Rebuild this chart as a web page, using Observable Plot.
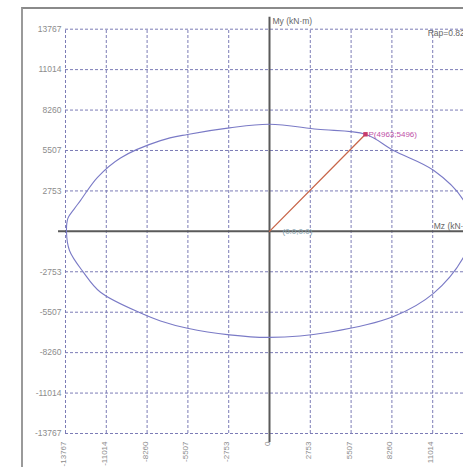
<!DOCTYPE html>
<html>
<head>
<meta charset="utf-8">
<script src="https://cdn.jsdelivr.net/npm/d3@7"></script>
<script src="https://cdn.jsdelivr.net/npm/@observablehq/plot@0.6"></script>
<style>
  html, body { margin: 0; padding: 0; background: #fff; overflow: hidden; }
  #wrap { position: relative; width: 463px; height: 467px; }
  #border { position: absolute; left: 21px; top: 7px; width: 460px; height: 470px;
            border-left: 2px solid #9a9a9a; border-top: 2px solid #8a8a8a; pointer-events: none; }
</style>
</head>
<body>
<div id="wrap"><div id="border"></div></div>
<script>
// Tick values (kN·m)
const xTicks = [-13767, -11014, -8260, -5507, -2753, 2753, 5507, 8260, 11014, 13767];
const yTicks = [-13767, -11014, -8260, -5507, -2753, 2753, 5507, 8260, 11014, 13767];
const xTickLabels = ["-13767", "-11014", "-8260", "-5507", "-2753", "0", "2753", "5507", "8260", "11014"];
const xTickLabelVals = [-13767, -11014, -8260, -5507, -2753, 0, 2753, 5507, 8260, 11014];

// Interaction curve (Mz, My), closed
const curveMz = [-13700, -13600, -13200, -12750, -11606, -10055, -7355, -5533, -2699, 0, 3239, 6478, 8367, 11067, 13091, 13700,
                 13091, 11067, 8367, 4116, 0, -2699, -5533, -7355, -8502, -11404, -12551, -13500];
const curveMy = [0, 900, 1500, 2110, 3680, 5000, 6180, 6600, 7050, 7291, 6950, 6610, 5507, 4157, 2112, 0,
                 -1772, -4225, -5800, -6850, -7223, -7050, -6600, -6100, -5650, -4150, -2794, -1300];

// Load point
const pointMz = [0, 6478];
const pointMy = [0, 6610];
const pointLabel = "P(4963;5496)";
const originLabel = "(0.0;0.0)";
const ratioLabel = "Rap=0.82";
const yAxisLabel = "My (kN·m)";
const xAxisLabel = "Mz (kN·m)";

const curve = curveMz.map((v, i) => ({mz: v, my: curveMy[i]}));
const seg = pointMz.map((v, i) => ({mz: v, my: pointMy[i]}));
const pt = [seg[1]];
const font = "Liberation Sans, Arial, sans-serif";

const chart = Plot.plot({
  width: 463,
  height: 467,
  margin: 0,
  style: {background: "transparent", fontFamily: font},
  x: {domain: [-13767, 13767], range: [65, 473], axis: null},
  y: {domain: [-13767, 13767], range: [433, 28.7], axis: null},
  marks: [
    Plot.ruleX(xTicks, {x: d => d, y1: () => -13767, y2: () => 13767, stroke: "#7c7cb6", strokeWidth: 1, strokeDasharray: "3,2"}),
    Plot.ruleY(yTicks, {y: d => d, x1: () => -13767, x2: () => 13767, stroke: "#7c7cb6", strokeWidth: 1, strokeDasharray: "3,2"}),
    Plot.ruleY([0], {y: d => d, x1: () => -14238, x2: () => 13767, stroke: "#5a5a5a", strokeWidth: 2}),
    Plot.ruleX([0], {x: d => d, y1: () => -14378, y2: () => 14582, stroke: "#5a5a5a", strokeWidth: 2}),
    Plot.line(curve, {x: "mz", y: "my", stroke: "#7a7ac6", strokeWidth: 1.1, curve: "catmull-rom-closed"}),
    Plot.line(seg, {x: "mz", y: "my", stroke: "#c8664a", strokeWidth: 1.3}),
    Plot.dot(pt, {x: "mz", y: "my", r: 2.5, symbol: "square", fill: "#c83a6a"}),
    Plot.text(pt, {x: "mz", y: "my", text: () => pointLabel, textAnchor: "start", dx: 3, fontSize: 8, fill: "#c050a8"}),
    Plot.text([seg[0]], {x: "mz", y: "my", text: () => originLabel, textAnchor: "start", dx: 13, fontSize: 8, fill: "#7fa2ae"}),
    Plot.text(yTicks, {x: () => -13767, y: d => d, text: d => String(d), textAnchor: "end", dx: -4, fontSize: 8.5, fill: "#8c8c8c"}),
    Plot.text(xTickLabelVals, {x: d => d, y: () => -13767, text: (d, i) => xTickLabels[i], rotate: -90, textAnchor: "end", dy: 8, dx: -2, fontSize: 8, fill: "#8c8c8c"}),
    Plot.text([yAxisLabel], {x: () => 0, y: () => 13767, text: d => d, textAnchor: "start", dx: 3, dy: -8, fontSize: 8.5, fill: "#666"}),
    Plot.text([xAxisLabel], {x: () => 11014, y: () => 0, text: d => d, textAnchor: "start", dx: 1, dy: -5, fontSize: 8.5, fill: "#666"}),
    Plot.text([ratioLabel], {x: () => 11014, y: () => 13767, text: d => d, textAnchor: "start", dx: -5, dy: 4, fontSize: 8.5, fill: "#666"})
  ]
});
document.getElementById("wrap").prepend(chart);
</script>
</body>
</html>
